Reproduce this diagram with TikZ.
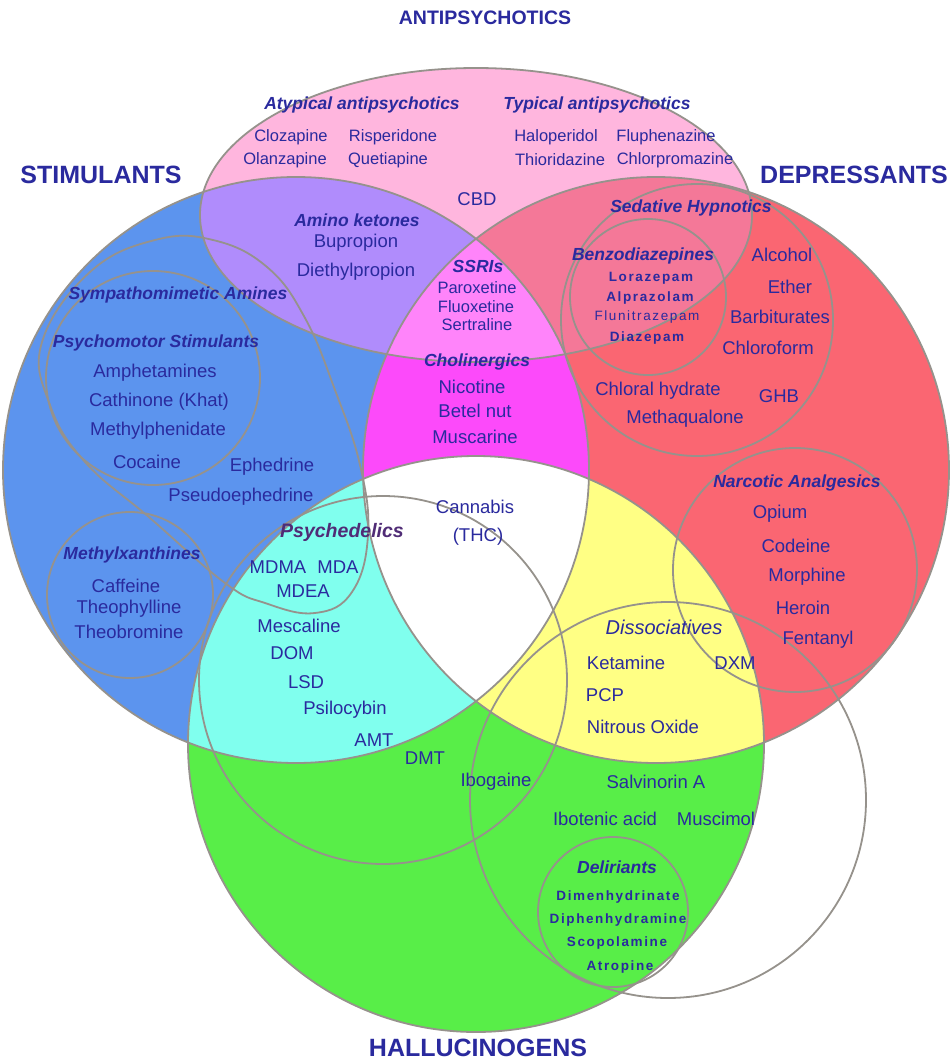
\documentclass[tikz,border=0pt]{standalone}
\usepackage{fontspec}
\setmainfont{Liberation Sans}
\newfontfamily\sperret[LetterSpace=12]{Liberation Sans}
\usepackage{tikz}

\definecolor{skrift}{RGB}{42,42,158}
\definecolor{lilla}{RGB}{80,44,118}
\definecolor{kant}{RGB}{150,146,140}
\definecolor{fA}{RGB}{255,182,222}
\definecolor{fS}{RGB}{92,148,238}
\definecolor{fD}{RGB}{250,102,114}
\definecolor{fH}{RGB}{88,238,72}
\definecolor{fAS}{RGB}{176,140,252}
\definecolor{fAD}{RGB}{244,120,152}
\definecolor{fSD}{RGB}{252,74,250}
\definecolor{fASD}{RGB}{255,132,250}
\definecolor{fSH}{RGB}{128,255,238}
\definecolor{fDH}{RGB}{255,255,132}

% de fire hovedmaengder
\newcommand\formA{(476,215) ellipse (276 and 147)}
\newcommand\formS{(296,470) circle (293)}
\newcommand\formD{(656,470) circle (293)}
\newcommand\formH{(476,744) circle (288)}

\begin{document}
\begin{tikzpicture}[x=1pt,y=-1pt,
    ring/.style={draw=kant,line width=1.8pt},
    titel/.style={text=skrift,font=\fontsize{25}{27}\selectfont\bfseries},
    gruppe/.style={text=skrift,font=\fontsize{17.5}{19}\selectfont\bfseries\itshape},
    stof/.style={text=skrift,font=\fontsize{18.5}{20}\selectfont},
    stofm/.style={text=skrift,font=\fontsize{16.5}{18}\selectfont},
    stofs/.style={text=skrift,font=\fontsize{13.5}{15}\selectfont\sperret\bfseries},
    inner sep=0pt]
    \fill[white] (0,0) rectangle (951,1063);
    \useasboundingbox (0,0) rectangle (951,1063);
    % Flader
    \fill[fS] \formS;
    \fill[fD] \formD;
    \fill[fH] \formH;
    \fill[fA] \formA;
    % Faellesmaengder
    \begin{scope} \clip \formA; \fill[fAS] \formS; \fill[fAD] \formD; \end{scope}
    \begin{scope} \clip \formS; \fill[fSD] \formD; \fill[fSH] \formH; \end{scope}
    \begin{scope} \clip \formD; \fill[fDH] \formH; \end{scope}
    \begin{scope} \clip \formA; \clip \formS; \fill[fASD] \formD; \end{scope}
    \begin{scope} \clip \formS; \clip \formD; \fill[white] \formH; \end{scope}
    % Kanter
    \foreach \f in {\formS,\formD,\formH,\formA} {
      \draw[ring] \f;
    }
    % Undergrupper
    \draw[ring] plot[smooth cycle,tension=0.7] coordinates {(42,342) (90,272) (155,240) (213,240) (267,267) (305,318) (335,390) (360,465) (368,535) (352,592) (315,613) (265,603) (225,583) (150,518) (85,462) (50,405)};
    \foreach \c/\r in {{(153,378)}/107,{(130,595)}/83,{(383,680)}/184,{(668,800)}/198,{(613,912)}/75,{(795,570)}/122,{(697,320)}/136,{(648,297)}/78} {
      \draw[ring] \c circle (\r);
    }
    % Overskrifter
    \node[titel,font=\fontsize{19.5}{21}\selectfont\bfseries] (antip) at (485,18) {ANTIPSYCHOTICS};
    \node[titel] (stim) at (101,175) {STIMULANTS};
    \node[titel] (depr) at (854,175) {DEPRESSANTS};
    \node[titel] (hall) at (478,1048) {HALLUCINOGENS};
    % Klasser
    \foreach \navn/\x/\y/\t in {atyp/362/105/Atypical antipsychotics, typ/597/105/Typical antipsychotics,
        amino/357/220/Amino ketones, ssri/478/266/SSRIs, chol/477/362/Cholinergics,
        sedhyp/691/208/Sedative Hypnotics, benzo/643/256/Benzodiazepines, narko/797/483/Narcotic Analgesics,
        sympa/178/295/Sympathomimetic Amines, psymo/156/343/Psychomotor Stimulants,
        metxa/132/555/Methylxanthines, delir/617/867/Deliriants}
      \node[gruppe] (\navn) at (\x,\y) {\t};
    \node[gruppe,text=lilla,font=\fontsize{19.5}{21}\selectfont\bfseries\itshape] (psyd) at (342,532) {Psychedelics};
    \node[stof,font=\fontsize{20}{22}\selectfont\itshape] (disso) at (664,627) {Dissociatives};
    % Stoffer
    \foreach \navn/\x/\y/\t in {kloz/291/137/Clozapine, risp/393/137/Risperidone, olan/285/160/Olanzapine,
        quet/388/160/Quetiapine, halo/556/137/Haloperidol, fluph/666/137/Fluphenazine,
        thio/560/160/Thioridazine, chlorp/675/160/Chlorpromazine,
        parox/477/288/Paroxetine, fluox/476/307/Fluoxetine, sert/477/325/Sertraline}
      \node[stofm] (\navn) at (\x,\y) {\t};
    \foreach \navn/\x/\y/\t in {ami/155/373/Amphetamines, cat/159/402/Cathinone (Khat), mph/158/431/Methylphenidate,
        coc/147/462/Cocaine, eph/272/467/Ephedrine, pse/241/497/Pseudoephedrine,
        caf/126/586/Caffeine, tph/129/609/Theophylline, tbr/129/632/Theobromine,
        bup/356/243/Bupropion, die/356/272/Diethylpropion, cbd/477/199/CBD,
        nic/472/387/Nicotine, bet/475/411/Betel nut, mus/475/437/Muscarine,
        alk/782/255/Alcohol, eth/790/287/Ether, bar/780/317/Barbiturates, chl/768/348/Chloroform,
        chy/658/391/Chloral hydrate, ghb/779/396/GHB, mtq/685/419/Methaqualone,
        opi/780/514/Opium, cod/796/546/Codeine, mor/807/577/Morphine, her/803/608/Heroin, fen/818/640/Fentanyl,
        can/475/507/Cannabis, thc/478/537/(THC),
        mdma/278/567/MDMA, mda/338/567/MDA, mdea/303/591/MDEA, mes/299/626/Mescaline,
        dom/292/653/DOM, lsd/306/682/LSD, psi/345/710/Psilocybin, amt/374/740/AMT,
        dmt/425/758/DMT, ibo/496/782/Ibogaine,
        ket/626/663/Ketamine, pcp/605/695/PCP, nit/643/727/Nitrous Oxide, dxm/735/663/DXM,
        sal/656/782/Salvinorin A, ibs/605/819/Ibotenic acid, msc/716/819/Muscimol}
      \node[stof] (\navn) at (\x,\y) {\t};
    \foreach \navn/\x/\y/\t in {lor/651/278/Lorazepam, alp/650/298/Alprazolam, dia/647/338/Diazepam,
        dim/618/897/Dimenhydrinate, diph/618/920/Diphenhydramine, sco/617/943/Scopolamine, atr/620/967/Atropine}
      \node[stofs] (\navn) at (\x,\y) {\t};
    \node[stofs,font=\fontsize{13.5}{15}\selectfont\sperret] (flun) at (647,317) {Flunitrazepam};
\end{tikzpicture}
\end{document}
